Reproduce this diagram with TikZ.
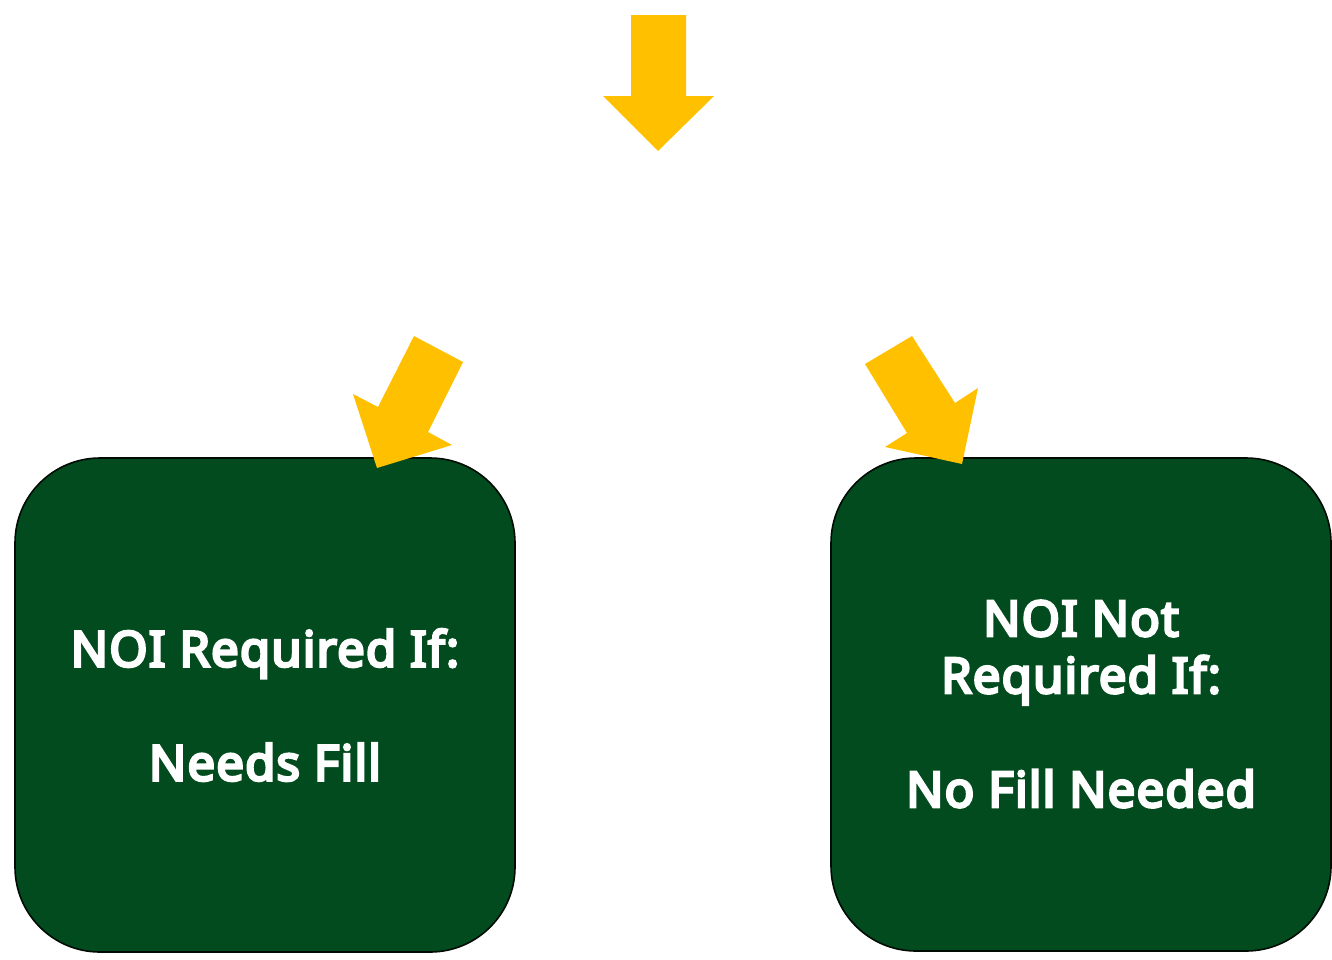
\documentclass[tikz,border=0pt]{standalone}
\usepackage{fontspec}
\setmainfont{Noto Sans}[BoldFont={Noto Sans},
  BoldFeatures={FakeBold=5.5, LetterSpace=2.5}]
\definecolor{boxgreen}{HTML}{024B1E}
\definecolor{arrowgold}{HTML}{FFC000}
\begin{document}
\begin{tikzpicture}[x=1pt,y=-1pt,
  decision/.style={draw=black!85!boxgreen, line width=1.6pt, fill=boxgreen,
    rounded corners=85pt},
  label/.style={text=white, font=\bfseries\fontsize{49}{57}\selectfont,
    align=center},
  flowarrow/.style={fill=arrowgold}]
\useasboundingbox (0,0) rectangle (1332,959);
% the two outcome boxes
\draw[decision] (15,458) rectangle (515,952);
\draw[decision] (831,458) rectangle (1331,951);
\node[label] (req) at (265,705) {NOI Required If:\\[57pt]Needs Fill};
\node[label] (notreq) at (1081,704) {NOI Not\\Required If:\\[57pt]No Fill Needed};
% block arrows
\fill[flowarrow] (631,15) -- (686,15) -- (686,96) -- (714,96) -- (658,151)
  -- (603,96) -- (631,96) -- cycle;
\fill[flowarrow] (414,336) -- (463,362) -- (428,432) -- (452,445) -- (377,468)
  -- (353,394) -- (378,407) -- cycle;
\fill[flowarrow] (865,364) -- (912,336) -- (955,403) -- (978,388) -- (962,464)
  -- (885,447) -- (907,433) -- cycle;
\end{tikzpicture}
\end{document}
